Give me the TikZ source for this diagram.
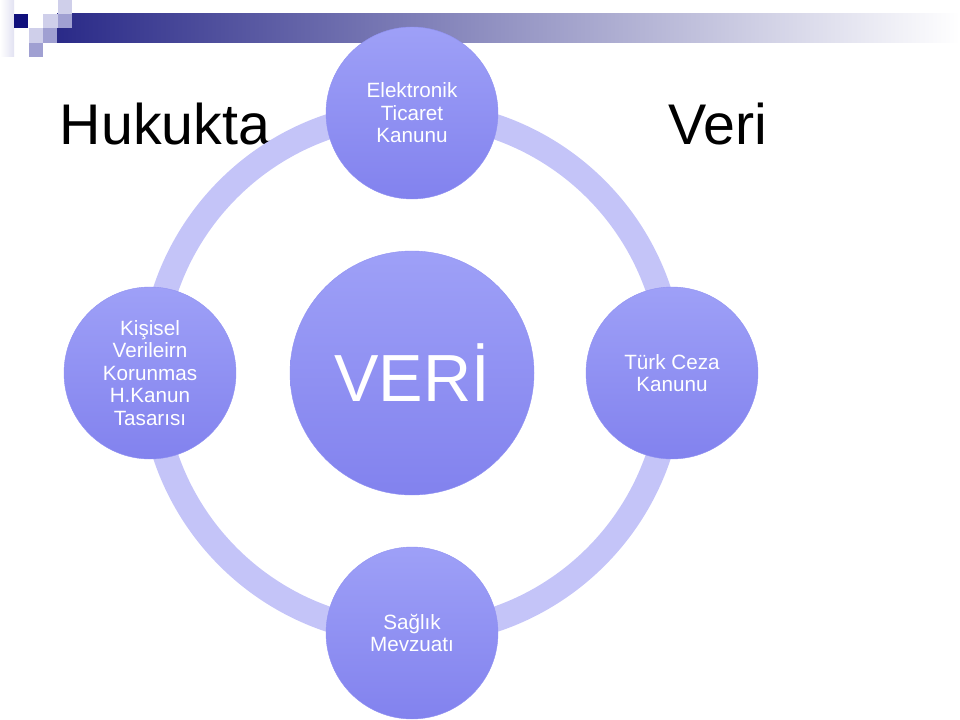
\documentclass[tikz,border=0pt]{standalone}
\usepackage{fontspec}
\setmainfont{Liberation Sans}
\definecolor{ringblue}{HTML}{C4C4F8}
\definecolor{nodetop}{HTML}{9EA0F7}
\definecolor{nodebot}{HTML}{8282EE}
\definecolor{barnavy}{HTML}{2A2A88}
\definecolor{barmid}{HTML}{B0B0C8}
\definecolor{sqnavy}{HTML}{10107C}
\definecolor{sqlight}{HTML}{CFCFEA}
\definecolor{sqmid}{HTML}{A0A0D2}
\begin{document}
\begin{tikzpicture}[x=0.75pt,y=-0.75pt,
  lawnode/.style={circle, minimum size=129pt, inner sep=0pt, top color=nodetop,
    bottom color=nodebot, draw=nodetop!50!nodebot, line width=0.3pt,
    text=white, align=center, font=\fontsize{15.5}{16.8}\selectfont},
  corenode/.style={lawnode, minimum size=183pt, font=\fontsize{50}{56}\selectfont},
  heading/.style={anchor=base, font=\fontsize{43}{48}\selectfont}]
\useasboundingbox (0,0) rectangle (960,720);
% top banner
\shade[left color=white, right color=sqlight!60] (0,0) rectangle (14,57);
\shade[left color=barnavy, middle color=barmid, right color=white] (57,14) rectangle (960,43);
\fill[sqnavy] (14,14) rectangle (28,28);
\fill[sqlight] (58,0) rectangle (72,14);
\fill[sqlight] (43,14) rectangle (58,28);
\fill[sqmid] (58,14) rectangle (72,28);
\fill[sqlight] (29,28) rectangle (43,43);
\fill[sqmid] (43,28) rectangle (57,43);
\fill[sqmid] (29,43) rectangle (43,57);
% titles
\node[heading] (hukukta) at (165,145) {Hukukta};
\node[heading] (veribaslik) at (718,145) {Veri};
% ring
\draw[ringblue, line width=18.75pt] (412,373) circle (260);
% nodes
\node[corenode] (veri) at (412,373) {VERİ};
\node[lawnode] (etk) at (412,113) {Elektronik\\Ticaret\\Kanunu};
\node[lawnode] (kvk) at (150,373) {Kişisel\\Verileirn\\Korunmas\\H.Kanun\\Tasarısı};
\node[lawnode] (tck) at (672,373) {Türk Ceza\\Kanunu};
\node[lawnode] (saglik) at (412,633) {Sağlık\\Mevzuatı};
\end{tikzpicture}
\end{document}
